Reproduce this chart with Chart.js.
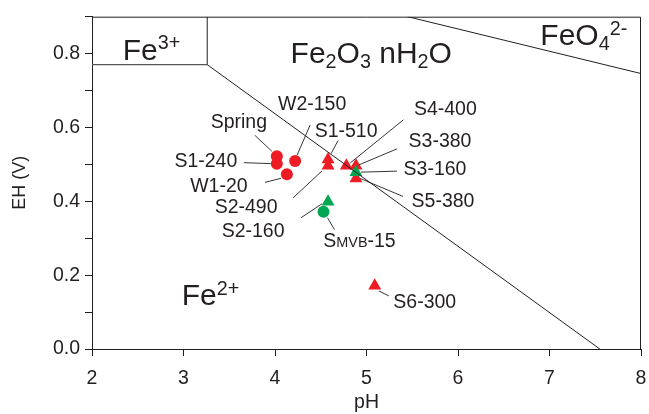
<!DOCTYPE html>
<html lang="en">
<head>
  <meta charset="UTF-8">
  <title>Eh-pH diagram</title>
  <script src="https://cdn.jsdelivr.net/npm/chart.js"></script>
  <style>
    body {
      margin: 0;
      background: #fff;
    }

    .wrap {
      width: 649px;
      height: 414px;
    }
  </style>
</head>
<body>
  <div class="wrap"><canvas id="ehph"></canvas></div>

  <script>
    // field boundaries (pH, Eh in V)
    const fe3BoxPH = [2, 3.26, 3.26];
    const fe3BoxEH = [0.77, 0.77, 0.9];
    const hematitePH = [3.26, 7.55];
    const hematiteEH = [0.77, 0];
    const ferratePH = [5.45, 8];
    const ferrateEH = [0.9, 0.746];

    // samples
    const redCircleNames = ['Spring', 'S1-240', 'W2-150', 'W1-20'];
    const redCirclePH = [4.02, 4.02, 4.22, 4.13];
    const redCircleEH = [0.522, 0.502, 0.509, 0.473];

    const redTriangleNames = ['S1-510', 'S2-490', 'S4-400', 'S3-380', 'S5-380', 'S6-300'];
    const redTrianglePH = [4.58, 4.58, 4.78, 4.885, 4.885, 5.09];
    const redTriangleEH = [0.513, 0.496, 0.496, 0.496, 0.462, 0.171];

    const greenTriangleNames = ['S3-160', 'S2-160'];
    const greenTrianglePH = [4.885, 4.58];
    const greenTriangleEH = [0.479, 0.399];

    const greenCircleNames = ['SMVB-15'];
    const greenCirclePH = [4.53];
    const greenCircleEH = [0.372];

    const xTicks = [2, 3, 4, 5, 6, 7, 8];

    const RED = '#ed1c24';
    const GREEN = '#00a651';
    const INK = '#231f20';
    const FONT = 'Liberation Sans, Arial, sans-serif';

    // label placement: text centre and leader line, px offsets from the point
    const labelLayout = {
      'Spring':  { tx: -38, ty: -33, l: [-22, -21, -5, -5] },
      'S1-240':  { tx: -71, ty: -2,  l: [-33, -1, -6, 0] },
      'W2-150':  { tx: 17,  ty: -56, l: [15, -36, 2, -6] },
      'W1-20':   { tx: -68, ty: 13,  l: [-22, 8, -6, 4] },
      'S1-510':  { tx: 18,  ty: -28, l: [10, -19, 3, -6] },
      'S2-490':  { tx: -82, ty: 42,  l: [-35, 32, -6, 5] },
      'S4-400':  { tx: 99,  ty: -56, l: [57, -46, 4, -3] },
      'S3-380':  { tx: 84,  ty: -24, l: [41, -17, 3, -1] },
      'S3-160':  { tx: 79,  ty: -2,  l: [41, -1, 5, 0] },
      'S5-380':  { tx: 87,  ty: 24,  l: [47, 18, 4, 0] },
      'S6-300':  { tx: 50,  ty: 17,  l: [4, 5, 14, 10] },
      'S2-160':  { tx: -75, ty: 30,  l: [-27, 16, -6, 2] },
      'SMVB-15': { tx: 36,  ty: 30,  l: [11, 18, 4, 6] }
    };

    // field names, anchored by left edge / baseline in data units
    const fieldLabels = [
      { pH: 2.335, eh: 0.783, segs: [['Fe', 1, 0], ['3+', 0.66, -0.36]] },
      { pH: 4.17, eh: 0.774, segs: [['Fe', 1, 0], ['2', 0.66, 0.16], ['O', 1, 0], ['3', 0.66, 0.16], [' nH', 1, 0], ['2', 0.66, 0.16], ['O', 1, 0]] },
      { pH: 6.9, eh: 0.822, segs: [['FeO', 1, 0], ['4', 0.66, 0.16], ['2-', 0.66, -0.36]] },
      { pH: 2.98, eh: 0.118, segs: [['Fe', 1, 0], ['2+', 0.66, -0.36]] }
    ];

    function pts(xs, ys) {
      return xs.map((x, i) => ({ x: x, y: ys[i] }));
    }

    function drawRich(ctx, segs, x, y, size, align) {
      let total = 0;
      segs.forEach(s => {
        ctx.font = (size * s[1]) + 'px ' + FONT;
        total += ctx.measureText(s[0]).width;
      });
      let cx = align === 'center' ? x - total / 2 : x;
      segs.forEach(s => {
        ctx.font = (size * s[1]) + 'px ' + FONT;
        ctx.fillText(s[0], cx, y + s[2] * size);
        cx += ctx.measureText(s[0]).width;
      });
    }

    function labelSegs(name) {
      if (name.startsWith('SMVB')) {
        return [['S', 1, 0], ['MVB', 0.74, 0], [name.slice(4), 1, 0]];
      }
      return [[name, 1, 0]];
    }

    const annotations = {
      id: 'annotations',
      afterDatasetsDraw(chart) {
        const ctx = chart.ctx;
        const xs = chart.scales.x;
        const ys = chart.scales.y;
        ctx.save();
        // frame
        const a = chart.chartArea;
        ctx.strokeStyle = INK;
        ctx.lineWidth = 1;
        ctx.beginPath();
        ctx.moveTo(a.left, a.top + 0.5);
        ctx.lineTo(a.right - 0.5, a.top + 0.5);
        ctx.lineTo(a.right - 0.5, a.bottom);
        ctx.stroke();

        ctx.fillStyle = INK;
        ctx.textBaseline = 'alphabetic';
        fieldLabels.forEach(f => {
          drawRich(ctx, f.segs, xs.getPixelForValue(f.pH), ys.getPixelForValue(f.eh), 30, 'left');
        });

        chart.data.datasets.forEach((ds, di) => {
          if (!ds.names) return;
          chart.getDatasetMeta(di).data.forEach((p, i) => {
            const lay = labelLayout[ds.names[i]];
            if (!lay) return;
            ctx.strokeStyle = INK;
            ctx.lineWidth = 0.9;
            ctx.beginPath();
            ctx.moveTo(p.x + lay.l[0], p.y + lay.l[1]);
            ctx.lineTo(p.x + lay.l[2], p.y + lay.l[3]);
            ctx.stroke();
            drawRich(ctx, labelSegs(ds.names[i]), p.x + lay.tx, p.y + lay.ty + 5, 19.5, 'center');
          });
        });
        ctx.restore();
      }
    };

    const boundary = {
      showLine: true,
      borderColor: INK,
      borderWidth: 1,
      pointRadius: 0,
      fill: false
    };

    new Chart(document.getElementById('ehph'), {
      type: 'scatter',
      data: {
        datasets: [
          Object.assign({ data: pts(fe3BoxPH, fe3BoxEH) }, boundary, { borderColor: '#555', borderWidth: 1.3 }),
          Object.assign({ data: pts(hematitePH, hematiteEH) }, boundary),
          Object.assign({ data: pts(ferratePH, ferrateEH) }, boundary),
          {
            names: redCircleNames,
            data: pts(redCirclePH, redCircleEH),
            pointStyle: 'circle',
            pointRadius: 6,
            backgroundColor: RED,
            borderWidth: 0
          },
          {
            names: greenTriangleNames,
            data: pts(greenTrianglePH, greenTriangleEH),
            pointStyle: 'triangle',
            pointRadius: 7.5,
            backgroundColor: GREEN,
            borderWidth: 0
          },
          {
            names: redTriangleNames,
            data: pts(redTrianglePH, redTriangleEH),
            pointStyle: 'triangle',
            pointRadius: 7.5,
            backgroundColor: RED,
            borderWidth: 0
          },
          {
            names: greenCircleNames,
            data: pts(greenCirclePH, greenCircleEH),
            pointStyle: 'circle',
            pointRadius: 6,
            backgroundColor: GREEN,
            borderWidth: 0
          }
        ]
      },
      options: {
        responsive: true,
        maintainAspectRatio: false,
        animation: false,
        layout: { padding: { left: 0, right: 8, top: 13, bottom: 0 } },
        plugins: {
          legend: { display: false },
          tooltip: { enabled: false }
        },
        scales: {
          x: {
            type: 'linear',
            min: xTicks[0],
            max: xTicks[xTicks.length - 1],
            afterBuildTicks(s) { s.ticks = xTicks.map(v => ({ value: v })); },
            afterFit(s) {
              s.height = 65;
              s.paddingLeft = 0;
              s.paddingRight = 0;
            },
            ticks: { color: INK, font: { family: FONT, size: 19.5 }, padding: 11 },
            grid: { drawOnChartArea: false, tickLength: 7, color: INK },
            border: { color: INK, width: 1 },
            title: { display: true, text: 'pH', color: INK, font: { family: FONT, size: 19.5 }, padding: { top: 0, bottom: 0 } }
          },
          y: {
            min: 0,
            max: 0.9,
            afterFit(s) { s.width = 92; },
            ticks: {
              stepSize: 0.1,
              autoSkip: false,
              color: INK,
              font: { family: FONT, size: 19.5 },
              padding: 5,
              callback: v => (Math.round(v * 10) % 2 === 0 ? v.toFixed(1) : '')
            },
            grid: { drawOnChartArea: false, tickLength: 7, color: INK },
            border: { color: INK, width: 1 },
            title: { display: true, text: 'EH (V)', color: INK, font: { family: FONT, size: 18 }, padding: { top: 9, bottom: 0 } }
          }
        }
      },
      plugins: [annotations]
    });
  </script>
</body>
</html>
